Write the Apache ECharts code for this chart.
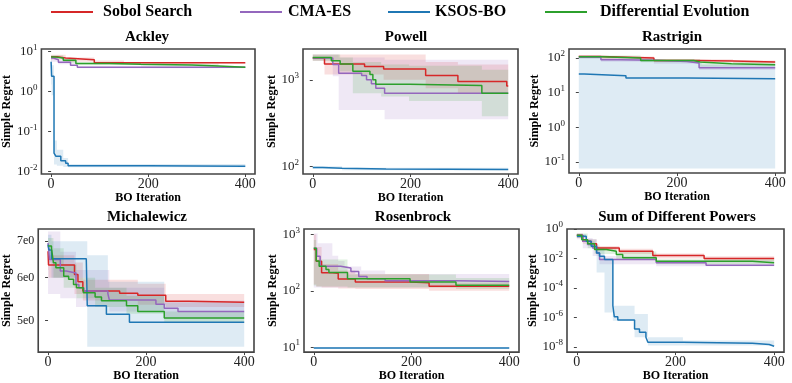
<!DOCTYPE html>
<html>
<head>
<meta charset="utf-8">
<script src="https://cdn.jsdelivr.net/npm/echarts@6/dist/echarts.min.js"></script>
<style>
  html, body { margin: 0; padding: 0; background: #fff; }
  #chart { width: 792px; height: 383px; }
</style>
</head>
<body>
<div id="chart"></div>
<script>
const methods = ['Sobol Search', 'CMA-ES', 'KSOS-BO', 'Differential Evolution'];
const colors = ['#d62728', '#9467bd', '#1f77b4', '#2ca02c'];
const bandFills = ['rgba(214,39,40,0.15)', 'rgba(148,103,189,0.15)', 'rgba(31,119,180,0.15)', 'rgba(44,160,44,0.15)'];
const xTicks = [0, 200, 400];

// Ackley  ([iteration, regret] / [iteration, low, high])
const ackleySobol = [[0, 7.4], [12, 6.8], [30, 6.2], [89, 5.2], [400, 5.2]];
const ackleySobolBand = [[0, 6.2, 8.2], [30, 5.5, 7.0], [89, 4.8, 5.9], [150, 5.0, 5.4], [400, 5.0, 5.4]];
const ackleyCma = [[0, 6.8], [5, 6.2], [15, 5.4], [40, 4.5], [54, 4.0], [400, 4.0]];
const ackleyCmaBand = [[0, 5.5, 7.8], [15, 4.8, 6.2], [54, 3.8, 4.2], [400, 3.8, 4.2]];
const ackleyKsos = [[0, 5.5], [1, 2.4], [6, 0.029], [10, 0.024], [20, 0.0186], [30, 0.0162], [35, 0.014], [200, 0.0135], [400, 0.0133]];
const ackleyKsosBand = [[0, 1.5, 7.5], [1, 0.8, 4.5], [6, 0.015, 0.06], [12, 0.014, 0.035], [25, 0.013, 0.022], [35, 0.0128, 0.0155], [400, 0.0126, 0.014]];
const ackleyDe = [[0, 7.3], [8, 6.8], [25, 6.0], [51, 5.0], [120, 4.8], [185, 4.6], [290, 4.3], [345, 4.0], [400, 4.0]];
const ackleyDeBand = [[0, 6.5, 8.0], [25, 5.3, 6.6], [51, 4.5, 5.4], [185, 4.2, 4.9], [345, 3.9, 4.2], [400, 3.9, 4.2]];
const ackleyTicks = [0.01, 0.1, 1, 10];

// Powell
const powellSobol = [[0, 1780], [24, 1520], [106, 1420], [145, 1330], [231, 1120], [297, 955], [397, 850], [400, 850]];
const powellSobolBand = [[0, 1650, 1950], [24, 1150, 1950], [145, 1000, 1950], [231, 800, 1600], [297, 700, 1500], [400, 700, 1500]];
const powellCma = [[0, 1780], [41, 1500], [53, 1190], [100, 1120], [110, 1000], [120, 900], [129, 800], [147, 700], [400, 700]];
const powellCmaBand = [[0, 1650, 1950], [41, 1100, 1950], [53, 450, 1800], [147, 352, 1700], [400, 352, 1700]];
const powellKsos = [[0, 98], [20, 96], [60, 94], [150, 93], [400, 92]];
const powellKsosBand = [[0, 95, 101], [60, 91, 97], [400, 90, 95]];
const powellDe = [[0, 1800], [38, 1650], [56, 1520], [82, 1250], [117, 1150], [123, 1000], [129, 890], [198, 860], [346, 700], [400, 700]];
const powellDeBand = [[0, 1650, 1950], [56, 1250, 1800], [82, 700, 1600], [140, 640, 1500], [197, 570, 1450], [346, 380, 1300], [400, 380, 1300]];
const powellTicks = [100, 1000];

// Rastrigin
const rastSobol = [[0, 111], [45, 100], [153, 85], [234, 82], [314, 77], [400, 77]];
const rastSobolBand = [[0, 100, 120], [45, 90, 110], [153, 78, 92], [314, 70, 85], [400, 70, 85]];
const rastCma = [[0, 106], [45, 89], [85, 86], [153, 79], [220, 72], [245, 52], [400, 52]];
const rastCmaBand = [[0, 95, 118], [45, 78, 100], [153, 68, 88], [245, 45, 60], [400, 44, 58]];
const rastKsos = [[0, 34.4], [11, 30.7], [96, 26.3], [220, 25], [400, 25]];
const rastKsosBand = [[0, 0.065, 110], [45, 0.065, 95], [150, 0.065, 80], [250, 0.065, 65], [400, 0.065, 60]];
const rastDe = [[0, 108], [45, 100], [126, 85], [234, 77], [247, 68], [311, 64], [400, 64]];
const rastDeBand = [[0, 98, 118], [126, 76, 94], [247, 58, 76], [400, 56, 72]];
const rastTicks = [0.1, 1, 10, 100];

// Michalewicz
const michSobol = [[0, 6.71], [1, 6.33], [35, 6.33], [54, 6.08], [61, 5.90], [71, 5.67], [146, 5.62], [183, 5.57], [240, 5.43], [287, 5.41], [400, 5.41]];
const michSobolBand = [[0, 6.2, 7.0], [1, 6.0, 6.6], [54, 5.6, 6.4], [71, 5.45, 5.95], [183, 5.35, 5.85], [240, 5.3, 5.6], [400, 5.3, 5.55]];
const michCma = [[0, 6.95], [3, 6.48], [25, 6.17], [37, 6.12], [57, 5.83], [63, 5.75], [73, 5.67], [122, 5.61], [125, 5.46], [220, 5.36], [237, 5.27], [265, 5.20], [400, 5.20]];
const michCmaBand = [[0, 5.6, 7.3], [25, 5.5, 6.7], [57, 5.3, 6.2], [125, 5.2, 5.75], [237, 5.05, 5.45], [400, 5.05, 5.4]];
const michKsos = [[0, 6.90], [2, 6.75], [7, 6.50], [78, 6.47], [80, 5.33], [119, 5.14], [166, 4.97], [400, 4.97]];
const michKsosBand = [[0, 6.4, 7.2], [7, 6.0, 7.0], [80, 4.48, 6.6], [122, 4.48, 5.9], [237, 4.48, 5.4], [400, 4.48, 5.4]];
const michDe = [[0, 6.86], [7, 6.8], [11, 6.39], [16, 6.26], [32, 6.04], [42, 5.96], [52, 5.83], [58, 5.75], [72, 5.63], [96, 5.53], [109, 5.44], [160, 5.33], [183, 5.20], [237, 5.06], [400, 5.06]];
const michDeBand = [[0, 6.5, 7.1], [11, 6.0, 6.8], [32, 5.75, 6.35], [58, 5.5, 6.0], [96, 5.3, 5.75], [160, 5.15, 5.55], [237, 4.95, 5.2], [400, 4.95, 5.2]];
const michTicks = [5, 6, 7];

// Rosenbrock
const rosenSobol = [[0, 542], [5, 336], [16, 209], [38, 205], [50, 163], [85, 144], [197, 140], [236, 121], [400, 121]];
const rosenSobolBand = [[0, 130, 1000], [5, 120, 600], [16, 115, 300], [50, 110, 230], [85, 108, 200], [236, 100, 140], [400, 100, 140]];
const rosenCma = [[0, 575], [6, 412], [13, 274], [55, 255], [76, 221], [92, 180], [109, 165], [146, 152], [291, 146], [400, 146]];
const rosenCmaBand = [[0, 115, 1050], [8, 115, 700], [38, 115, 420], [50, 115, 340], [63, 115, 270], [97, 115, 230], [146, 115, 200], [400, 115, 200]];
const rosenKsos = [[0, 9.6], [400, 9.6]];
const rosenKsosBand = [[0, 9.3, 9.9], [400, 9.3, 9.9]];
const rosenDe = [[0, 575], [5, 340], [11, 274], [25, 239], [31, 213], [69, 165], [197, 144], [291, 126], [400, 126]];
const rosenDeBand = [[0, 125, 800], [5, 120, 360], [69, 115, 195], [291, 108, 170], [400, 108, 170]];
const rosenTicks = [10, 100, 1000];

// Sum of Different Powers
const sodpSobol = [[0, 0.37], [12, 0.146], [29, 0.098], [40, 0.052], [86, 0.031], [154, 0.0159], [258, 0.0100], [400, 0.0100]];
const sodpSobolBand = [[0, 0.25, 0.5], [12, 0.1, 0.2], [40, 0.035, 0.07], [86, 0.02, 0.045], [154, 0.01, 0.022], [258, 0.007, 0.014], [400, 0.007, 0.014]];
const sodpCma = [[0, 0.37], [12, 0.146], [22, 0.088], [32, 0.052], [40, 0.024], [46, 0.0085], [161, 0.0051], [262, 0.0035], [400, 0.0035]];
const sodpCmaBand = [[0, 0.2, 0.5], [12, 0.05, 0.25], [32, 0.015, 0.09], [46, 0.004, 0.015], [161, 0.003, 0.0075], [400, 0.0025, 0.005]];
const sodpKsos = [[0, 0.32], [19, 0.146], [29, 0.067], [40, 0.024], [46, 0.0144], [56, 0.0085], [73, 6.2e-6], [76, 1.1e-6], [83, 6.6e-7], [117, 1.66e-7], [127, 1e-7], [140, 4.6e-8], [144, 2.1e-8], [215, 1.8e-8], [356, 1.45e-8], [390, 1.1e-8], [400, 1.1e-8]];
const sodpKsosBand = [[0, 0.25, 0.45], [19, 0.08, 0.2], [40, 0.0011, 0.052], [56, 2.2e-6, 0.0085], [73, 6e-7, 6.2e-6], [117, 4.6e-8, 1.7e-6], [144, 1.26e-8, 4.6e-8], [215, 1.26e-8, 2.7e-8], [400, 1e-8, 2e-8]];
const sodpDe = [[0, 0.37], [10, 0.19], [22, 0.098], [36, 0.041], [60, 0.031], [80, 0.0186], [93, 0.0112], [161, 0.0066], [356, 0.0051], [400, 0.0051]];
const sodpDeBand = [[0, 0.25, 0.5], [22, 0.05, 0.15], [36, 0.02, 0.06], [80, 0.008, 0.03], [161, 0.004, 0.009], [400, 0.003, 0.007]];
const sodpTicks = [1e-8, 1e-6, 1e-4, 1e-2, 1];

const panels = [
    { title: 'Ackley', lines: [ackleySobol, ackleyCma, ackleyKsos, ackleyDe], bands: [ackleySobolBand, ackleyCmaBand, ackleyKsosBand, ackleyDeBand], ticks: ackleyTicks, yMin: Math.pow(10, -2.06), yMax: Math.pow(10, 1.06), sci: false },
    { title: 'Powell', lines: [powellSobol, powellCma, powellKsos, powellDe], bands: [powellSobolBand, powellCmaBand, powellKsosBand, powellDeBand], ticks: powellTicks, yMin: Math.pow(10, 1.916), yMax: Math.pow(10, 3.354), sci: false },
    { title: 'Rastrigin', lines: [rastSobol, rastCma, rastKsos, rastDe], bands: [rastSobolBand, rastCmaBand, rastKsosBand, rastDeBand], ticks: rastTicks, yMin: Math.pow(10, -1.32), yMax: Math.pow(10, 2.26), sci: false },
    { title: 'Michalewicz', lines: [michSobol, michCma, michKsos, michDe], bands: [michSobolBand, michCmaBand, michKsosBand, michDeBand], ticks: michTicks, yMin: 4.378, yMax: 7.375, sci: true },
    { title: 'Rosenbrock', lines: [rosenSobol, rosenCma, rosenKsos, rosenDe], bands: [rosenSobolBand, rosenCmaBand, rosenKsosBand, rosenDeBand], ticks: rosenTicks, yMin: Math.pow(10, 0.911), yMax: Math.pow(10, 3.10), sci: false },
    { title: 'Sum of Different Powers', lines: [sodpSobol, sodpCma, sodpKsos, sodpDe], bands: [sodpSobolBand, sodpCmaBand, sodpKsosBand, sodpDeBand], ticks: sodpTicks, yMin: Math.pow(10, -8.35), yMax: 1, sci: false }
];

// layout: [left, top, width, height] of each plot box, title centre x
const boxes = [[39, 49, 216, 125], [303, 49, 215, 125], [569, 49, 216, 124], [36, 229, 218, 124], [304, 229, 215, 124], [567, 229, 217, 124]];
const titleX = [147, 406, 672, 147, 413, 677];
const legendLeft = [51, 240, 388, 545];
const legendPad = [5, 1, 0, 8];

const serif = "'Liberation Serif', 'Times New Roman', serif";
const frame = '#444';

var chartDom = document.getElementById('chart');
var myChart = echarts.init(chartDom);

function powLabel(v) {
    const e = Math.round(Math.log10(v));
    return '{b|10}{s|' + e + '}';
}

// shaded min/max band drawn as one stepped polygon (steps-post, like the lines)
function bandRenderer(band, fill) {
    return function (params, api) {
        if (params.dataIndex !== 0) return;
        const pts = [];
        for (let i = 0; i < band.length - 1; i++) {
            pts.push(api.coord([band[i][0], band[i][2]]));
            pts.push(api.coord([band[i + 1][0], band[i][2]]));
        }
        for (let i = band.length - 2; i >= 0; i--) {
            pts.push(api.coord([band[i + 1][0], band[i][1]]));
            pts.push(api.coord([band[i][0], band[i][1]]));
        }
        return { type: 'polygon', silent: true, shape: { points: pts }, style: { fill: fill } };
    };
}

let grids = [], xAxes = [], yAxes = [], titles = [], series = [];

panels.forEach(function (p, gi) {
    const b = boxes[gi];
    grids.push({ left: b[0], top: b[1], width: b[2], height: b[3], show: true, borderColor: frame, borderWidth: 1.6, containLabel: false });
    titles.push({
        text: p.title, left: titleX[gi], top: gi < 3 ? 30 : 210, textAlign: 'center', padding: 0,
        textStyle: { fontFamily: serif, fontWeight: 'bold', fontSize: 15, color: '#000' }
    });
    xAxes.push({
        type: 'value', gridIndex: gi, min: -20, max: 420,
        name: 'BO Iteration', nameLocation: 'middle', nameGap: 12,
        nameTextStyle: { fontFamily: serif, fontWeight: 'bold', fontSize: 12, color: '#000' },
        axisLine: { show: false },
        axisTick: { show: true, length: 3, customValues: xTicks, lineStyle: { color: frame } },
        axisLabel: { customValues: xTicks, margin: 3, fontFamily: serif, fontSize: 14, color: '#222' },
        splitLine: { show: false }
    });
    yAxes.push({
        type: 'log', logBase: 10, gridIndex: gi, min: p.yMin, max: p.yMax,
        name: 'Simple Regret', nameLocation: 'middle', nameGap: 20,
        nameTextStyle: { fontFamily: serif, fontWeight: 'bold', fontSize: 12, color: '#000' },
        axisLine: { show: false },
        axisTick: { show: true, length: 3, customValues: p.ticks, lineStyle: { color: frame } },
        axisLabel: {
            customValues: p.ticks, margin: 4,
            formatter: p.sci ? function (v) { return '{m|' + Math.round(v) + 'e0}'; } : powLabel,
            rich: {
                b: { fontFamily: serif, fontSize: 13, color: '#222', lineHeight: 17 },
                s: { fontFamily: serif, fontSize: 9, color: '#222', verticalAlign: 'top', lineHeight: 10 },
                m: { fontFamily: serif, fontSize: 12, color: '#222' }
            }
        },
        splitLine: { show: false }
    });

    p.bands.forEach(function (band, mi) {
        series.push({
            type: 'custom', name: methods[mi] + ' band', xAxisIndex: gi, yAxisIndex: gi,
            renderItem: bandRenderer(band, bandFills[mi]), clip: true, silent: true, z: 1,
            encode: { x: 0, y: [1, 2] },
            data: band
        });
    });
    p.lines.forEach(function (line, mi) {
        series.push({
            type: 'line', name: methods[mi], xAxisIndex: gi, yAxisIndex: gi,
            step: 'end', symbol: 'none', z: 3, color: colors[mi],
            lineStyle: { color: colors[mi], width: 1.5 },
            data: line
        });
    });
});

const legends = methods.map(function (m, i) {
    return {
        data: [m], left: legendLeft[i], top: 4, padding: 0, icon: 'rect',
        itemWidth: 42, itemHeight: 2, selectedMode: false,
        textStyle: { fontFamily: serif, fontWeight: 'bold', fontSize: 16, color: '#000', padding: [0, 0, 0, legendPad[i]] }
    };
});

var option = {
    animation: false,
    backgroundColor: '#fff',
    title: titles,
    legend: legends,
    grid: grids,
    xAxis: xAxes,
    yAxis: yAxes,
    series: series
};

option && myChart.setOption(option);

window.addEventListener('resize', function () {
    myChart.resize();
});
</script>
</body>
</html>
